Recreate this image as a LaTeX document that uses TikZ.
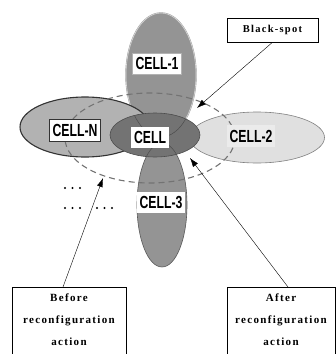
\documentclass[tikz,border=0pt]{standalone}
\usepackage{fontspec}
\usepackage{graphicx}
\setmainfont{Liberation Serif}
\newfontfamily\cellfont{Liberation Sans}
\newfontfamily\boxfont[LetterSpace=12]{Liberation Serif}
\usetikzlibrary{positioning,arrows.meta}
\tikzset{
	celllabel/.style={fill=white,draw=gray!60,line width=0.4pt,inner xsep=3pt,inner ysep=4.5pt,
		text height=12.5pt,text depth=0pt,font=\cellfont\bfseries\fontsize{17.5}{17.5}\selectfont},
	notebox/.style={draw,line width=0.5pt,fill=white},
	notetext/.style={inner sep=0pt,align=center,font=\boxfont\bfseries\fontsize{11}{22}\selectfont},
	pointer/.style={line width=0.4pt,-{Latex[length=9pt,width=6pt]}}
}
\newcommand{\cellname}[1]{\scalebox{0.7}[1]{#1}}

\begin{document}
\begin{tikzpicture}[x=1pt,y=-1pt]
\useasboundingbox (0,0) rectangle (336,354);
\clip (0,0) rectangle (336,354);

%Centres des cellules
\coordinate (c1) at (161,75);
\coordinate (c3) at (162,205);
\coordinate (cN) at (85,127);
\coordinate (c2) at (257,137.5);
\coordinate (c0) at (155,135);
\coordinate (cd) at (150,138);

%Cellules voisines
\filldraw[fill=black!42,draw=gray!80,double=white!85!black,double distance=0.6pt,line width=0.4pt]
	(c1) ellipse [x radius=35,y radius=62];
\filldraw[fill=black!42,draw=black!65,line width=0.6pt] (c3) ellipse [x radius=25,y radius=62];
\filldraw[fill=black!30,draw=black!80,line width=1.1pt] (cN) ellipse [x radius=65,y radius=30];
\filldraw[fill=black!12,draw=black!50,line width=0.6pt] (c2) ellipse [x radius=67.5,y radius=25.5];

%Zone avant reconfiguration
\draw[dashed,dash pattern=on 6pt off 4pt,draw=black!55,line width=1.1pt] (cd) ellipse [x radius=85,y radius=45];

%Cellule centrale
\filldraw[fill=black!55,draw=black!70,line width=0.6pt] (c0) ellipse [x radius=45,y radius=22];
\begin{scope}
	\clip (c0) ellipse [x radius=45,y radius=22];
	\draw[black!70,line width=0.5pt] (c1) ellipse [x radius=35,y radius=62];
	\draw[black!70,line width=0.5pt] (c3) ellipse [x radius=25,y radius=62];
\end{scope}

%Etiquettes
\node[celllabel] (lab1) at (157,63.5) {\cellname{CELL-1}};
\node[celllabel,draw=black!80] (labN) at (75,130) {\cellname{CELL-N}};
\node[celllabel,draw=none] (lab0) at (150,137.5) {\cellname{CELL}};
\node[celllabel,fill=black!8,draw=none] (lab2) at (251,136) {\cellname{CELL-2}};
\node[celllabel,draw=none] (lab3) at (161,202.5) {\cellname{CELL-3}};

%Points de suspension
\foreach \x in {65,72.5,80}
	\fill (\x,188) circle (1.1pt);
\foreach \x in {65,72.5,80,97,104.5,112}
	\fill (\x,208) circle (1.1pt);

%Boites de texte
\node[notebox,minimum width=91pt,minimum height=24pt] (blackspot) at (272.5,30)
	{\boxfont\bfseries\fontsize{10.5}{12}\selectfont Black-spot};
\node[notebox,anchor=north,minimum width=114pt,minimum height=80pt] (before) at (69,287) {};
\node[notetext,below=6.5pt of before.north] (beforetxt) {Before\\reconfiguration\\action};
\node[notebox,anchor=north,minimum width=108pt,minimum height=80pt] (after) at (281,287) {};
\node[notetext,below=6.5pt of after.north] (aftertxt) {After\\reconfiguration\\action};

%Fleches
\coordinate (bsend) at (197,108);
\coordinate (beforeend) at (103,178);
\coordinate (afterend) at (190,158);
\draw[pointer] (blackspot.south) -- (bsend);
\draw[pointer] ([xshift=-6pt]before.north) -- (beforeend);
\draw[pointer] ([xshift=7pt]after.north) -- (afterend);

\end{tikzpicture}
\end{document}
